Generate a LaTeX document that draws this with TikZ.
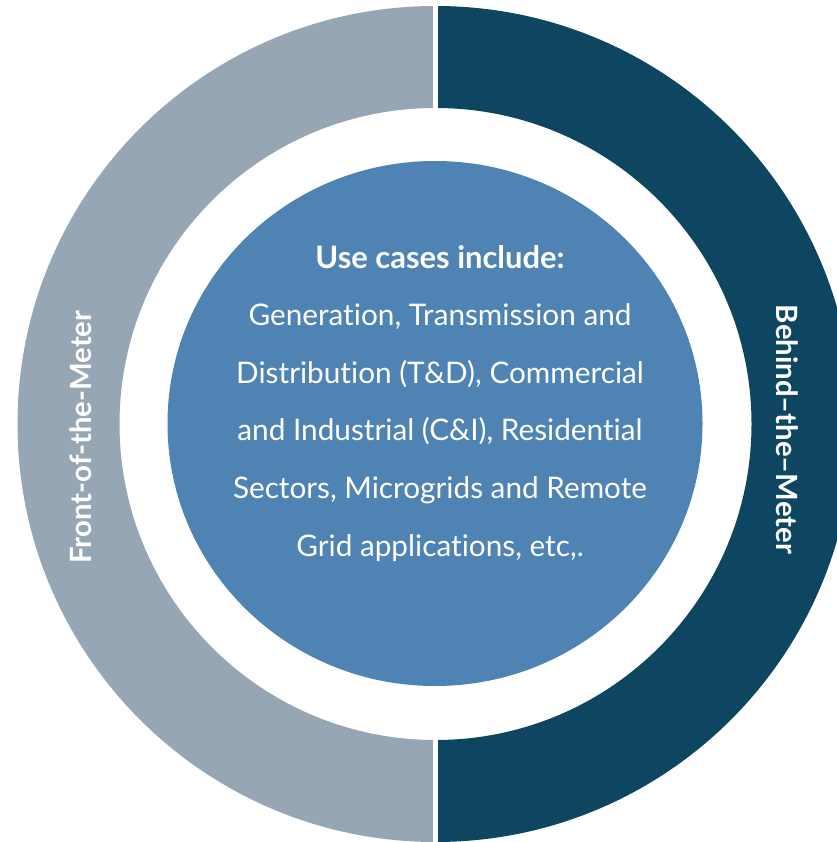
\documentclass[tikz,border=0pt]{standalone}
\usepackage{fontspec}
\usetikzlibrary{shapes.geometric}
\setmainfont{Lato}[Ligatures=NoCommon]
\definecolor{frontgrey}{HTML}{97A6B4}
\definecolor{behinddark}{HTML}{0E4560}
\definecolor{coreblue}{HTML}{4E83B3}
\begin{document}
\begin{tikzpicture}[x=0.75pt,y=-0.75pt,
  bodytext/.style={text=white,anchor=base,inner sep=0pt,font=\fontsize{22.3}{26}\selectfont},
  sidelabel/.style={text=white,anchor=base,inner sep=0pt,font=\bfseries\fontsize{22}{26}\selectfont}]
\useasboundingbox (0,0) rectangle (837,842);
\clip (0,0) rectangle (837,842);
\fill[white] (0,0) rectangle (837,842);
% ring halves
\begin{scope}
  \clip (0,0) rectangle (435.5,842);
  \fill[frontgrey,even odd rule] (435.5,424) circle (418) (435.5,424) circle (316);
\end{scope}
\begin{scope}
  \clip (435.5,0) rectangle (900,842);
  \fill[behinddark,even odd rule] (435.5,424) circle (418) (435.5,424) circle (316);
\end{scope}
\draw[white,line width=3.75pt] (435.5,0) -- (435.5,842);
% core
\node[ellipse,minimum width=535*0.75pt,minimum height=525*0.75pt,fill=coreblue,inner sep=0pt] (core) at (435,423.5) {};
% texts
\node[bodytext,font=\bfseries\fontsize{23.2}{27}\selectfont] (title) at (440,268) {Use cases include:};
\node[bodytext] (l1) at (440,325) {Generation, Transmission and};
\node[bodytext] (l2) at (440,383) {Distribution (T\&D), Commercial};
\node[bodytext] (l3) at (440,440) {and Industrial (C\&I), Residential};
\node[bodytext] (l4) at (440,498) {Sectors, Microgrids and Remote};
\node[bodytext] (l5) at (440,556) {Grid applications, etc,.};
\node[sidelabel,rotate=90] (front) at (91,437) {Front-of-the-Meter};
\node[sidelabel,rotate=-90] (behind) at (776,429.5) {Behind–the–Meter};
\end{tikzpicture}
\end{document}
